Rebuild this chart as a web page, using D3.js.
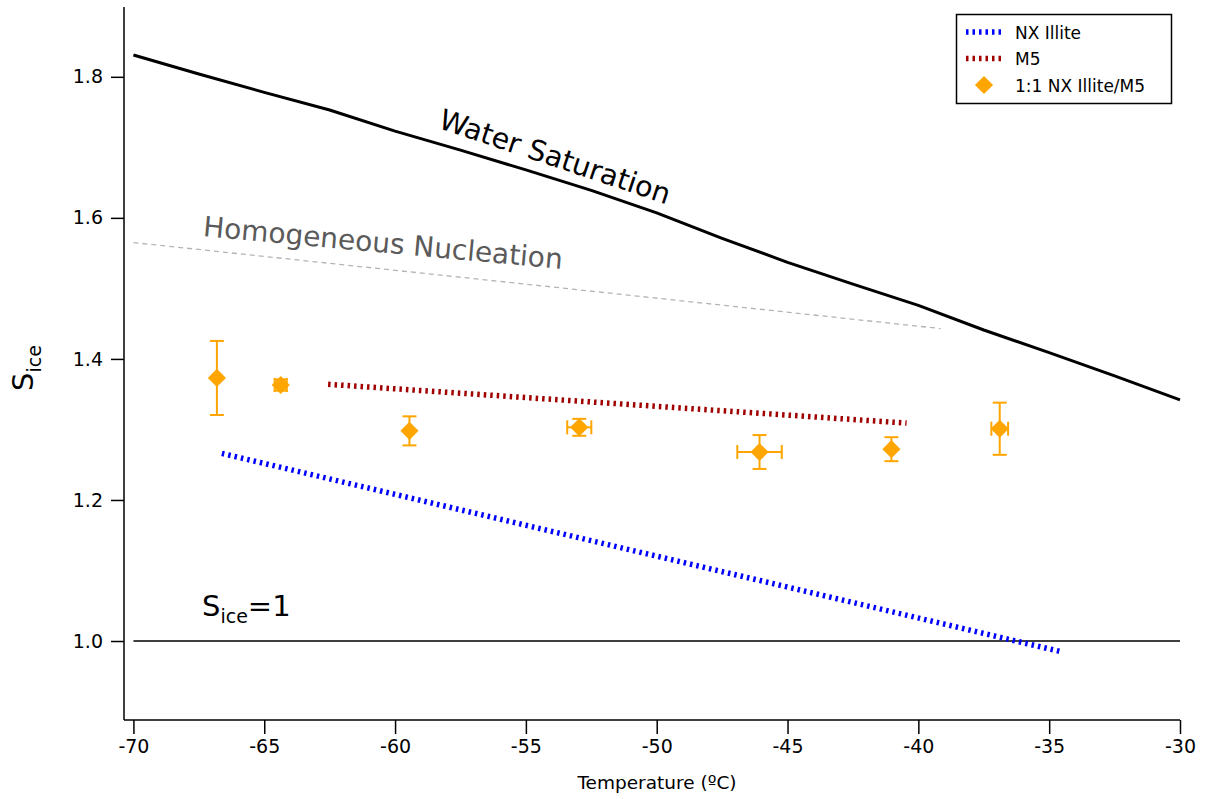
<!DOCTYPE html>
<html>
<head>
<meta charset="utf-8">
<script src="https://cdn.jsdelivr.net/npm/d3@7"></script>
<style>
  html, body { margin: 0; padding: 0; background: #fff; }
  svg { display: block; font-family: "DejaVu Sans", sans-serif; }
</style>
</head>
<body>
<svg id="chart" width="1207" height="799"></svg>
<script>
// Water saturation curve (S_ice at liquid water saturation)
const waterT = [-70, -67.5, -65, -62.5, -60, -57.5, -55, -52.5, -50, -47.5, -45, -42.5, -40, -37.5, -35, -32.5, -30];
const waterS = [1.831, 1.804, 1.778, 1.753, 1.723, 1.696, 1.668, 1.639, 1.607, 1.571, 1.537, 1.506, 1.476, 1.441, 1.409, 1.376, 1.342];

// Homogeneous freezing threshold
const homT = [-70, -55, -39.15];
const homS = [1.565, 1.506, 1.443];

// Fits for pure dusts
const illiteT = [-66.62, -34.56];
const illiteS = [1.266, 0.985];
const m5T = [-62.56, -40.45];
const m5S = [1.364, 1.309];

// 1:1 NX Illite/M5 mixture measurements with uncertainties
const mixT = [-66.81, -64.37, -59.45, -52.96, -46.07, -41.03, -36.89];
const mixS = [1.373, 1.363, 1.298, 1.303, 1.268, 1.272, 1.301];
const mixSErr = [0.0525, 0.008, 0.0206, 0.012, 0.024, 0.017, 0.037];
const mixTErr = [0, 0.23, 0, 0.46, 0.85, 0, 0.32];

// Axis ticks
const xTicks = [-70, -65, -60, -55, -50, -45, -40, -35, -30];
const yTicks = [1.0, 1.2, 1.4, 1.6, 1.8];

const plotLeft = 124, plotTop = 7, plotRight = 1180, plotBottom = 720;

const x = d3.scaleLinear().domain([-70.36, -30]).range([plotLeft, plotRight]);
const y = d3.scaleLinear().domain([0.888, 1.899]).range([plotBottom, plotTop]);

const svg = d3.select("#chart");
const orange = "#FFA500";

const line = d3.line().x(d => x(d[0])).y(d => y(d[1]));
const zip = (a, b) => a.map((v, i) => [v, b[i]]);

// S_ice = 1 reference line
svg.append("path")
  .attr("d", line([[-70, 1], [-30, 1]]))
  .attr("stroke", "#000").attr("stroke-width", 1.5).attr("fill", "none");

// Homogeneous nucleation (dashed grey)
svg.append("path")
  .attr("d", line(zip(homT, homS)))
  .attr("stroke", "#b4b4b4").attr("stroke-width", 1.3)
  .attr("stroke-dasharray", "5,4").attr("fill", "none");

// Water saturation
svg.append("path")
  .attr("d", line(zip(waterT, waterS)))
  .attr("stroke", "#000").attr("stroke-width", 3).attr("fill", "none")
  .attr("stroke-linejoin", "round");

// NX Illite fit
svg.append("path")
  .attr("d", line(zip(illiteT, illiteS)))
  .attr("stroke", "#0000ff").attr("stroke-width", 5.5)
  .attr("stroke-dasharray", "2.5,4").attr("fill", "none");

// M5 fit
svg.append("path")
  .attr("d", line(zip(m5T, m5S)))
  .attr("stroke", "#a00000").attr("stroke-width", 5.5)
  .attr("stroke-dasharray", "2.5,4").attr("fill", "none");

// Error bars
const pts = mixT.map((t, i) => ({ t, s: mixS[i], se: mixSErr[i], te: mixTErr[i] }));
const eb = svg.append("g").attr("stroke", orange).attr("stroke-width", 2).attr("fill", "none");
const cap = 7;
pts.forEach(p => {
  const cx = x(p.t), cy = y(p.s);
  if (p.se > 0) {
    const y0 = y(p.s - p.se), y1 = y(p.s + p.se);
    eb.append("line").attr("x1", cx).attr("x2", cx).attr("y1", y0).attr("y2", y1);
    eb.append("line").attr("x1", cx - cap).attr("x2", cx + cap).attr("y1", y0).attr("y2", y0);
    eb.append("line").attr("x1", cx - cap).attr("x2", cx + cap).attr("y1", y1).attr("y2", y1);
  }
  if (p.te > 0) {
    const x0 = x(p.t - p.te), x1 = x(p.t + p.te);
    eb.append("line").attr("x1", x0).attr("x2", x1).attr("y1", cy).attr("y2", cy);
    eb.append("line").attr("x1", x0).attr("x2", x0).attr("y1", cy - cap).attr("y2", cy + cap);
    eb.append("line").attr("x1", x1).attr("x2", x1).attr("y1", cy - cap).attr("y2", cy + cap);
  }
});

// Diamond markers
const diamond = d3.symbol().type(d3.symbolSquare).size(165);
svg.append("g").selectAll("path").data(pts).join("path")
  .attr("d", diamond)
  .attr("fill", orange)
  .attr("transform", d => `translate(${x(d.t)},${y(d.s)}) rotate(45)`);

// Axes (plain hyphen for negative numbers)
const xAxis = d3.axisBottom(x).tickValues(xTicks).tickSizeOuter(0).tickSize(14).tickPadding(6)
  .tickFormat(d => String(d));
const yAxis = d3.axisLeft(y).tickValues(yTicks).tickSizeOuter(0).tickSize(13).tickPadding(8)
  .tickFormat(d => d.toFixed(1));

const gx = svg.append("g").attr("transform", `translate(0,${plotBottom})`).call(xAxis);
const gy = svg.append("g").attr("transform", `translate(${plotLeft},0)`).call(yAxis);
[gx, gy].forEach(g => {
  g.select(".domain").attr("stroke", "#000").attr("stroke-width", 1.5);
  g.selectAll(".tick line").attr("stroke", "#000").attr("stroke-width", 1.5);
  g.selectAll(".tick text").attr("fill", "#000")
    .style("font-family", "DejaVu Sans, sans-serif").style("font-size", "19px");
});
// bottom axis runs all the way to the left axis
gx.select(".domain").attr("d", `M${plotLeft},0H${plotRight}`);
gy.select(".domain").attr("d", `M0,${plotTop}V${plotBottom}`);

// Axis titles
svg.append("text")
  .attr("x", 657).attr("y", 789)
  .attr("text-anchor", "middle")
  .style("font-size", "18.5px")
  .text("Temperature (ºC)");

const yl = svg.append("text")
  .attr("transform", "translate(33,391) rotate(-90)")
  .style("font-size", "29px");
yl.append("tspan").text("S");
yl.append("tspan").attr("dy", 8).style("font-size", "19px").text("ice");

// Annotations
svg.append("text")
  .attr("transform", "translate(555,157) rotate(18.5)")
  .attr("text-anchor", "middle").attr("dominant-baseline", "central")
  .style("font-size", "28.5px")
  .text("Water Saturation");

svg.append("text")
  .attr("transform", "translate(383,243) rotate(5.2)")
  .attr("text-anchor", "middle").attr("dominant-baseline", "central")
  .attr("fill", "#5a5a5a")
  .style("font-size", "28px")
  .text("Homogeneous Nucleation");

const s1 = svg.append("text")
  .attr("x", 202).attr("y", 616)
  .style("font-size", "29px");
s1.append("tspan").text("S");
s1.append("tspan").attr("dy", 7).style("font-size", "19px").text("ice");
s1.append("tspan").attr("dy", -7).text("=1");

// Legend
const lg = svg.append("g");
lg.append("rect")
  .attr("x", 956.5).attr("y", 14.5).attr("width", 215).attr("height", 89)
  .attr("fill", "#fff").attr("stroke", "#000").attr("stroke-width", 1.5);
const items = [
  { label: "NX Illite", kind: "line", color: "#0000ff" },
  { label: "M5", kind: "line", color: "#a00000" },
  { label: "1:1 NX Illite/M5", kind: "marker", color: orange }
];
items.forEach((it, i) => {
  const cy = 32 + i * 26.5;
  if (it.kind === "line") {
    lg.append("line").attr("x1", 966).attr("x2", 1002).attr("y1", cy).attr("y2", cy)
      .attr("stroke", it.color).attr("stroke-width", 5.5).attr("stroke-dasharray", "2.5,4");
  } else {
    lg.append("path").attr("d", diamond)
      .attr("fill", it.color).attr("transform", `translate(984,${cy}) rotate(45)`);
  }
  lg.append("text").attr("x", 1015).attr("y", cy + 6.5)
    .style("font-size", "17px").text(it.label);
});
</script>
</body>
</html>
